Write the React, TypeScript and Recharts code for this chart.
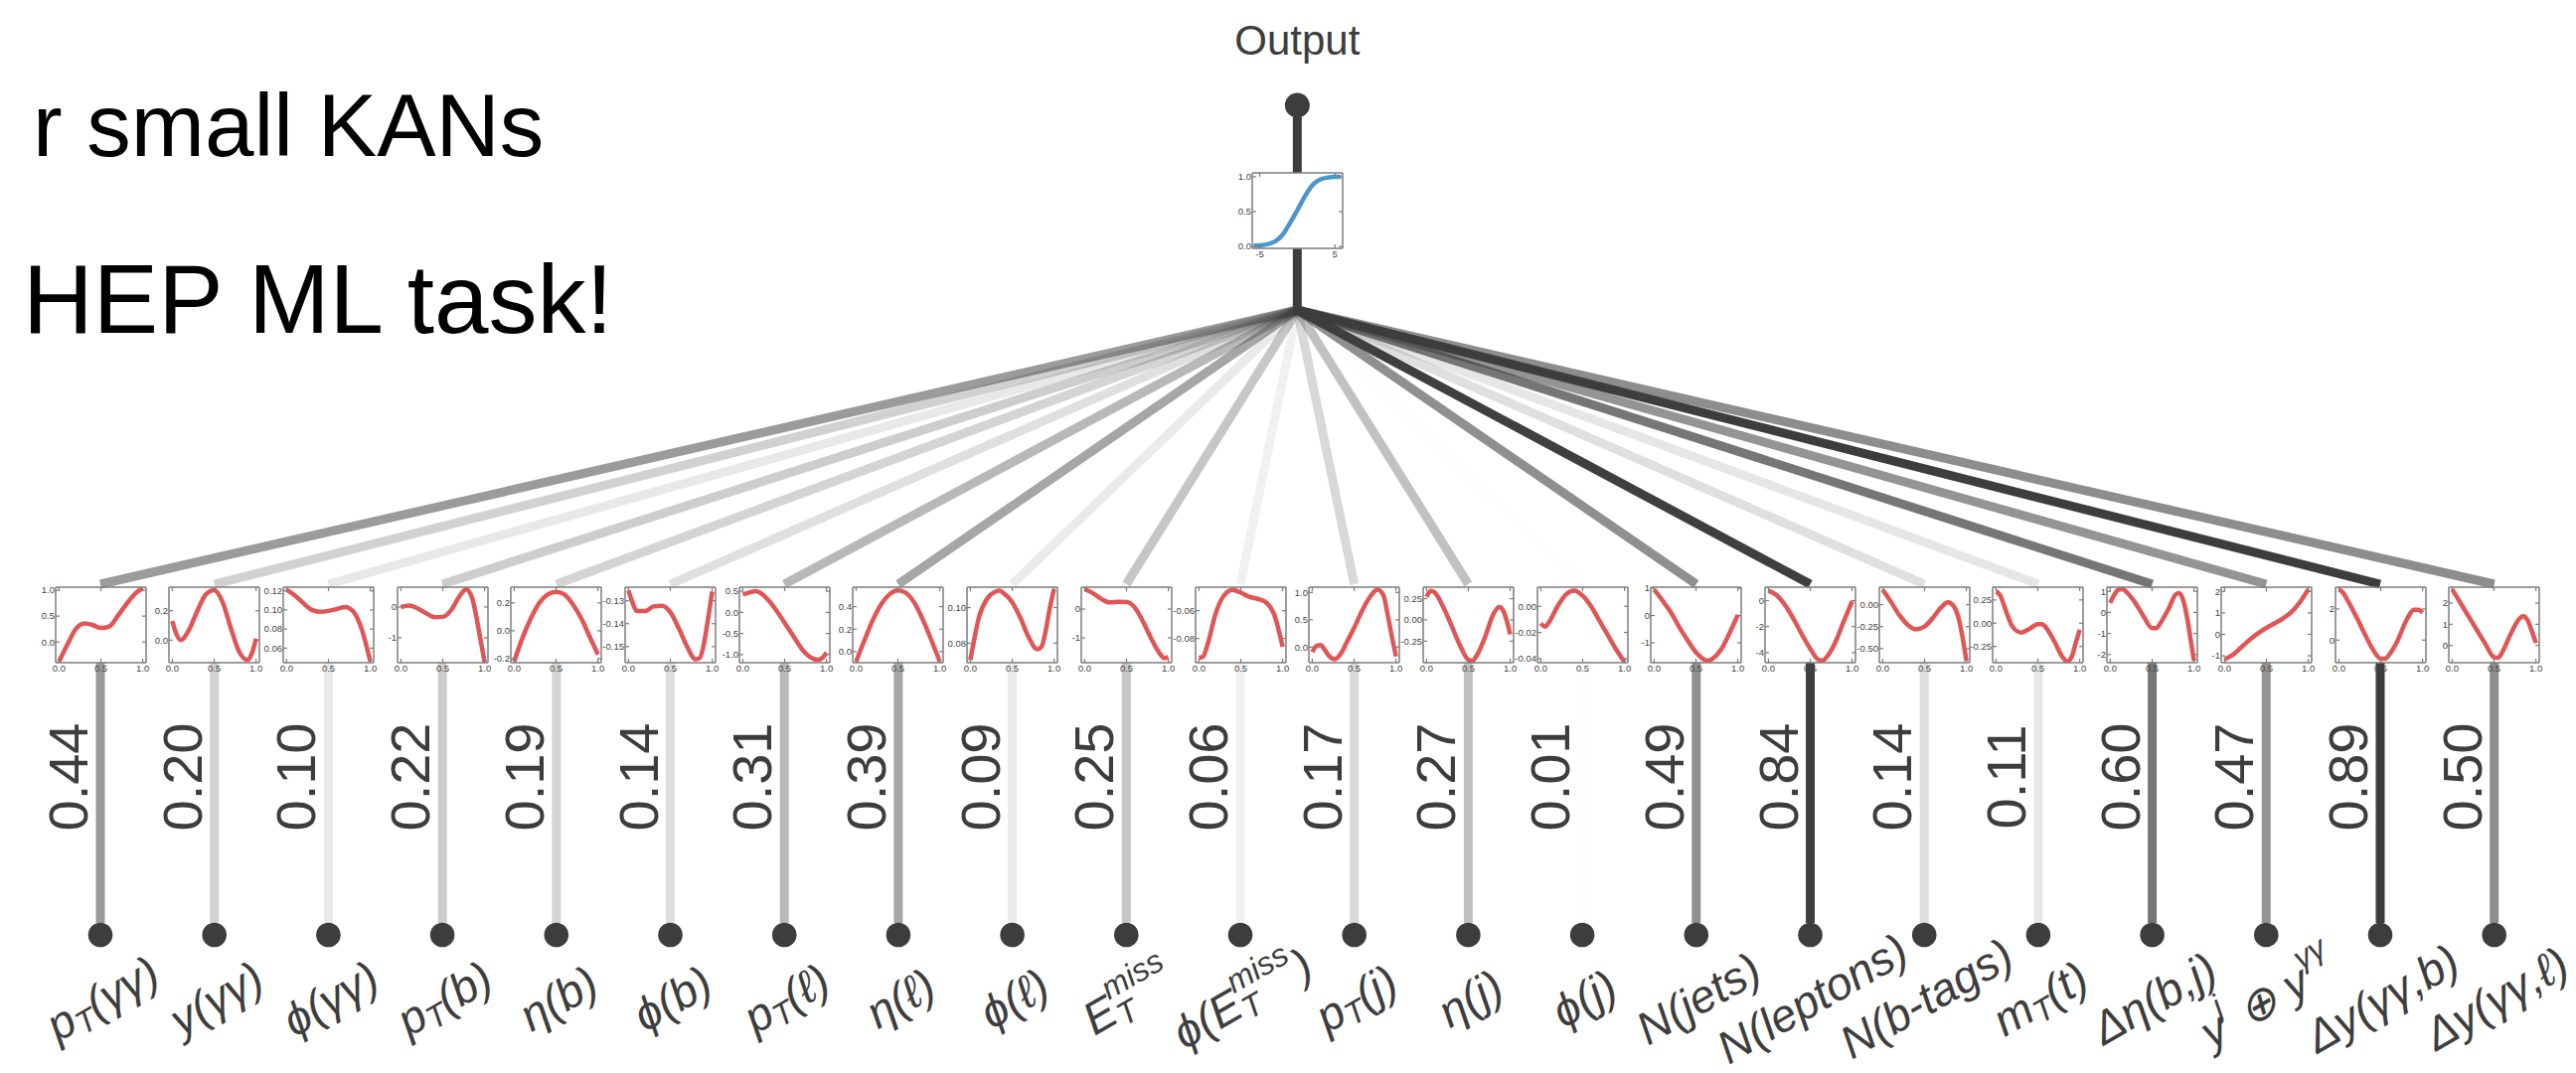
import React from "react";
import { ComposedChart, LineChart, Line, XAxis, YAxis, Scatter, ReferenceLine } from "recharts";

// ---- data ----
const scores = [0.44, 0.2, 0.1, 0.22, 0.19, 0.14, 0.31, 0.39, 0.09, 0.25, 0.06, 0.17, 0.27, 0.01, 0.49, 0.84, 0.14, 0.11, 0.6, 0.47, 0.89, 0.5];

type Piece = { t: string; m?: "b" | "p"; dx?: number };
const featureLabels: Piece[][] = [
  [{ t: "p" }, { t: "T", m: "b" }, { t: "(γγ)" }],
  [{ t: "y(γγ)" }],
  [{ t: "ϕ(γγ)" }],
  [{ t: "p" }, { t: "T", m: "b" }, { t: "(b)" }],
  [{ t: "η(b)" }],
  [{ t: "ϕ(b)" }],
  [{ t: "p" }, { t: "T", m: "b" }, { t: "(ℓ)" }],
  [{ t: "η(ℓ)" }],
  [{ t: "ϕ(ℓ)" }],
  [{ t: "E" }, { t: "miss", m: "p" }, { t: "T", m: "b", dx: -1.43 }],
  [{ t: "ϕ(E" }, { t: "miss", m: "p" }, { t: "T", m: "b", dx: -1.43 }, { t: ")", dx: 1.0 }],
  [{ t: "p" }, { t: "T", m: "b" }, { t: "(j)" }],
  [{ t: "η(j)" }],
  [{ t: "ϕ(j)" }],
  [{ t: "N(jets)" }],
  [{ t: "N(leptons)" }],
  [{ t: "N(b-tags)" }],
  [{ t: "m" }, { t: "T", m: "b" }, { t: "(t)" }],
  [{ t: "Δη(b,j)" }],
  [{ t: "y" }, { t: "j", m: "p" }, { t: " ⊕ y" }, { t: "γγ", m: "p" }],
  [{ t: "Δy(γγ,b)" }],
  [{ t: "Δy(γγ,ℓ)" }],
];

// activation curves, [x, φ(x)]
const fPtGG = [[0, -0.38], [0.1, -0.05], [0.2, 0.25], [0.3, 0.36], [0.4, 0.33], [0.5, 0.27], [0.6, 0.3], [0.7, 0.5], [0.8, 0.72], [0.9, 0.92], [0.97, 1.01], [1, 1.02]];
const fYGG = [[0, 0.13], [0.05, 0.04], [0.1, 0.0], [0.2, 0.07], [0.3, 0.2], [0.4, 0.31], [0.5, 0.34], [0.6, 0.26], [0.7, 0.08], [0.8, -0.08], [0.9, -0.135], [0.95, -0.09], [1, 0.01]];
const fPhiGG = [[0, 0.121], [0.1, 0.115], [0.2, 0.107], [0.3, 0.1], [0.4, 0.098], [0.5, 0.099], [0.6, 0.101], [0.7, 0.103], [0.8, 0.098], [0.9, 0.079], [1, 0.046]];
const fPtB = [[0, 0.0], [0.1, 0.05], [0.2, -0.05], [0.3, -0.2], [0.4, -0.33], [0.5, -0.32], [0.6, -0.1], [0.7, 0.35], [0.78, 0.57], [0.85, 0.3], [0.9, -0.3], [0.95, -1.05], [1, -1.8]];
const fEtaB = [[0, -0.22], [0.1, -0.05], [0.2, 0.09], [0.3, 0.2], [0.4, 0.26], [0.5, 0.28], [0.6, 0.26], [0.7, 0.19], [0.8, 0.09], [0.9, -0.04], [1, -0.17]];
const fPhiB = [[0, -0.1255], [0.05, -0.131], [0.1, -0.1345], [0.2, -0.1345], [0.3, -0.1325], [0.4, -0.1322], [0.5, -0.135], [0.6, -0.142], [0.7, -0.15], [0.8, -0.1555], [0.85, -0.155], [0.9, -0.149], [0.95, -0.138], [1, -0.126]];
const fPtL = [[0, 0.42], [0.1, 0.48], [0.15, 0.5], [0.2, 0.47], [0.3, 0.3], [0.4, 0.05], [0.5, -0.25], [0.6, -0.55], [0.7, -0.85], [0.8, -1.05], [0.9, -1.12], [0.95, -1.08], [1, -0.95]];
const fEtaL = [[0, -0.09], [0.1, 0.1], [0.2, 0.28], [0.3, 0.42], [0.4, 0.51], [0.5, 0.545], [0.6, 0.52], [0.7, 0.43], [0.8, 0.28], [0.9, 0.1], [1, -0.09]];
const fPhiL = [[0, 0.0705], [0.05, 0.083], [0.1, 0.094], [0.2, 0.105], [0.3, 0.109], [0.35, 0.1095], [0.4, 0.108], [0.5, 0.103], [0.6, 0.094], [0.7, 0.083], [0.8, 0.0765], [0.85, 0.078], [0.9, 0.087], [0.95, 0.1], [1, 0.1105]];
const fMet = [[0, 0.69], [0.1, 0.55], [0.2, 0.35], [0.3, 0.23], [0.4, 0.25], [0.5, 0.24], [0.6, 0.05], [0.7, -0.45], [0.8, -1.05], [0.9, -1.55], [0.95, -1.7], [1, -1.67]];
const fPhiMet = [[0, -0.094], [0.05, -0.093], [0.1, -0.085], [0.2, -0.062], [0.3, -0.049], [0.4, -0.045], [0.5, -0.047], [0.6, -0.05], [0.7, -0.0515], [0.8, -0.054], [0.9, -0.063], [1, -0.086]];
const fPtJ = [[0, -0.09], [0.05, 0.02], [0.1, 0.04], [0.15, -0.05], [0.2, -0.16], [0.27, -0.22], [0.35, -0.1], [0.4, 0.05], [0.5, 0.35], [0.6, 0.68], [0.7, 0.94], [0.78, 1.05], [0.85, 0.95], [0.9, 0.6], [0.95, 0.2], [1, -0.17]];
const fEtaJ = [[0, 0.27], [0.05, 0.34], [0.1, 0.32], [0.2, 0.15], [0.3, -0.07], [0.4, -0.3], [0.5, -0.47], [0.55, -0.48], [0.6, -0.42], [0.7, -0.2], [0.8, 0.07], [0.87, 0.15], [0.92, 0.1], [1, -0.17]];
const fPhiJ = [[0, -0.013], [0.05, -0.0155], [0.1, -0.012], [0.2, 0.0], [0.3, 0.009], [0.4, 0.012], [0.5, 0.008], [0.6, 0.0], [0.7, -0.011], [0.8, -0.022], [0.9, -0.033], [1, -0.0425]];
const fNJets = [[0, 0.95], [0.1, 0.55], [0.2, 0.12], [0.3, -0.42], [0.4, -0.91], [0.5, -1.35], [0.6, -1.62], [0.65, -1.65], [0.7, -1.58], [0.8, -1.25], [0.9, -0.65], [1, 0.02]];
const fNLep = [[0, 0.75], [0.1, 0.4], [0.2, -0.35], [0.3, -1.4], [0.4, -2.6], [0.5, -3.7], [0.6, -4.55], [0.65, -4.6], [0.7, -4.3], [0.8, -3.2], [0.9, -1.6], [1, -0.05]];
const fNBtag = [[0, 0.17], [0.1, 0.03], [0.2, -0.12], [0.3, -0.23], [0.4, -0.28], [0.5, -0.25], [0.6, -0.15], [0.7, -0.03], [0.78, 0.025], [0.85, -0.02], [0.9, -0.13], [0.95, -0.35], [1, -0.64]];
const fMtT = [[0, 0.34], [0.05, 0.3], [0.1, 0.18], [0.2, -0.04], [0.3, -0.1], [0.4, -0.06], [0.5, -0.01], [0.55, -0.01], [0.6, -0.05], [0.7, -0.2], [0.8, -0.37], [0.85, -0.41], [0.9, -0.37], [0.95, -0.22], [1, -0.07]];
const fDEta = [[0, 0.45], [0.05, 0.85], [0.1, 1.08], [0.15, 1.1], [0.2, 0.95], [0.3, 0.45], [0.4, -0.2], [0.5, -0.75], [0.55, -0.75], [0.6, -0.5], [0.7, 0.2], [0.78, 0.85], [0.82, 0.92], [0.87, 0.6], [0.92, -0.3], [0.96, -1.3], [1, -2.3]];
const fYsum = [[0, -1.17], [0.1, -0.95], [0.2, -0.6], [0.3, -0.25], [0.4, 0.05], [0.5, 0.3], [0.6, 0.52], [0.7, 0.75], [0.8, 1.05], [0.9, 1.5], [1, 2.1]];
const fDyB = [[0, 3.25], [0.05, 3.05], [0.1, 2.6], [0.2, 1.6], [0.3, 0.5], [0.4, -0.55], [0.5, -1.2], [0.55, -1.2], [0.6, -0.95], [0.7, -0.05], [0.8, 1.2], [0.9, 1.95], [0.95, 1.95], [1, 1.75]];
const fDyL = [[0, 2.65], [0.1, 2.0], [0.2, 1.35], [0.3, 0.7], [0.4, 0.05], [0.5, -0.55], [0.55, -0.58], [0.6, -0.3], [0.7, 0.55], [0.8, 1.25], [0.85, 1.38], [0.9, 1.2], [0.95, 0.7], [1, 0.12]];

const curves = [fPtGG, fYGG, fPhiGG, fPtB, fEtaB, fPhiB, fPtL, fEtaL, fPhiL, fMet, fPhiMet, fPtJ, fEtaJ, fPhiJ, fNJets, fNLep, fNBtag, fMtT, fDEta, fYsum, fDyB, fDyL];

const yRanges = [
  [-0.4, 1.06], [-0.153, 0.36], [0.0448, 0.1238], [-1.81, 0.645], [-0.229, 0.313], [-0.157, -0.1241],
  [-1.19, 0.595], [-0.0985, 0.573], [0.069, 0.1115], [-1.86, 0.76], [-0.0974, -0.0431], [-0.285, 1.097],
  [-0.504, 0.385], [-0.0431, 0.0146], [-1.73, 1.04], [-4.77, 1.03], [-0.66, 0.198], [-0.424, 0.387],
  [-2.39, 1.2], [-1.32, 2.2], [-1.45, 3.4], [-0.81, 2.75],
];
const yTickLabels = [
  ["0.0", "0.5", "1.0"], ["0.0", "0.2"], ["0.06", "0.08", "0.10", "0.12"], ["-1", "0"], ["-0.2", "0.0", "0.2"],
  ["-0.15", "-0.14", "-0.13"], ["-1.0", "-0.5", "0.0", "0.5"], ["0.0", "0.2", "0.4"], ["0.08", "0.10"],
  ["-1", "0"], ["-0.08", "-0.06"], ["0.0", "0.5", "1.0"], ["-0.25", "0.00", "0.25"], ["-0.04", "-0.02", "0.00"],
  ["-1", "0", "1"], ["-4", "-2", "0"], ["-0.50", "-0.25", "0.00"], ["-0.25", "0.00", "0.25"],
  ["-2", "-1", "0", "1"], ["-1", "0", "1", "2"], ["0", "2"], ["0", "1", "2"],
];
const xTickLabels = ["0.0", "0.5", "1.0"];

// output activation (sigmoid-like), [x, y]
const fOut = [[-5.8, 0.012], [-5, 0.015], [-4, 0.03], [-3, 0.07], [-2, 0.16], [-1, 0.33], [0, 0.52], [1, 0.72], [2, 0.88], [3, 0.96], [4, 0.99], [5, 1.0], [5.8, 1.0]];
const outYTicks = ["0.0", "0.5", "1.0"];
const outXTicks = ["-5", "5"];

// ---- layout ----
const W = 2592;
const H = 1080;
const STEP = 114.7;
const X_FIRST = 101;
const HUB_X = 10.5;
const OUT_NODE_Y = 106;
const OUT_BOX_TOP = 174;
const HUB_Y = 312;
const BOX_TOP = 591;
const PW = 91;
const PH = 76;
const NODE_Y = 941;
const VALUE_Y = 782;
const LABEL_Y = 1005;
const ML = 36, MR = 4, MT = 4, MB = 16;
const AX = 1; // thickness reserved by each axis
const DARK = "#3d3d3d";
const RED = "#e05656";
const BLUE = "#4b97c9";
const FRAME = "#7c7c7c";
const FONT = "'Liberation Sans', Arial, sans-serif";

const alpha = (v: number) => Math.min(1, v / 0.85);
const px = (i: number) => X_FIRST + STEP * i;

const fmt = (labels: string[]) => (v: number) => labels.find((l) => Number(l) === v) ?? String(v);

function MiniPlot({ pts, xDomain, xLabels, yDomain, yLabels, color, left, top }: any) {
  const data = pts.map(([x, y]: number[]) => ({ x, y }));
  const xt = xLabels.map(Number);
  const yt = yLabels.map(Number);
  const fx = fmt(xLabels);
  const fy = fmt(yLabels);
  const axisLine = { stroke: FRAME, strokeWidth: 1.5 };
  const common = { allowDataOverflow: true, tickSize: 0, tickMargin: 0, tickLine: false, axisLine, interval: 0 as const };
  return (
    <div style={{ position: "absolute", left: left - ML - AX, top: top - MT - AX }}>
      <LineChart width={PW + ML + MR + 2 * AX} height={PH + MT + MB + 2 * AX} data={data} margin={{ top: MT, right: MR, bottom: MB, left: ML }}>
        <XAxis xAxisId="b" type="number" dataKey="x" domain={xDomain} ticks={xt} height={AX} {...common}
          tick={(p: any) => (
            <g>
              <line x1={p.x} x2={p.x} y1={p.y} y2={p.y - 4} stroke={FRAME} strokeWidth={1.2} />
              <text x={p.x} y={p.y + 2} dy="0.72em" textAnchor="middle" fontSize={9.5} fill="#444" fontFamily={FONT}>{fx(p.payload.value)}</text>
            </g>
          )} />
        <XAxis xAxisId="t" orientation="top" type="number" dataKey="x" domain={xDomain} ticks={xt} height={AX} {...common}
          tick={(p: any) => <line x1={p.x} x2={p.x} y1={p.y} y2={p.y + 4} stroke={FRAME} strokeWidth={1.2} />} />
        <YAxis yAxisId="l" type="number" dataKey="y" domain={yDomain} ticks={yt} width={AX} {...common}
          tick={(p: any) => (
            <g>
              <line x1={p.x} x2={p.x + 4} y1={p.y} y2={p.y} stroke={FRAME} strokeWidth={1.2} />
              <text x={p.x - 1} y={p.y} dy="0.35em" textAnchor="end" fontSize={9.5} fill="#444" fontFamily={FONT}>{fy(p.payload.value)}</text>
            </g>
          )} />
        <YAxis yAxisId="r" orientation="right" type="number" dataKey="y" domain={yDomain} ticks={yt} width={AX} {...common}
          tick={(p: any) => <line x1={p.x} x2={p.x - 4} y1={p.y} y2={p.y} stroke={FRAME} strokeWidth={1.2} />} />
        <Line xAxisId="b" yAxisId="l" type="monotone" dataKey="y" stroke={color} strokeWidth={4.5} dot={false} isAnimationActive={false} />
      </LineChart>
    </div>
  );
}

function MathLabel({ cx, cy, pieces, size }: any) {
  let cur = 0;
  return (
    <text transform={`translate(${cx},${cy}) rotate(-30)`} textAnchor="middle" dominantBaseline="central"
      fontSize={size} fontStyle="italic" fill={DARK} fontFamily={FONT}>
      {pieces.map((p: Piece, k: number) => {
        const target = p.m === "b" ? 0.25 * size : p.m === "p" ? -0.42 * size : 0;
        const dy = target - cur;
        cur = target;
        return (
          <tspan key={k} dy={dy} dx={p.dx ? p.dx * size : undefined} fontSize={p.m ? size * 0.7 : size}>{p.t}</tspan>
        );
      })}
    </text>
  );
}

export default function App() {
  const X0 = -X_FIRST / STEP;
  const X1 = (W - X_FIRST) / STEP;
  const order = scores.map((s, i) => i).sort((a, b) => scores[a] - scores[b]);
  const nodes = scores.map((s, i) => ({ x: i, y: NODE_Y, i }));
  const valuePts = scores.map((s, i) => ({ x: i, y: VALUE_Y, i }));
  const labelPts = scores.map((s, i) => ({ x: i, y: LABEL_Y, i }));

  return (
    <div style={{ position: "absolute", left: 0, top: 0, width: W, height: H, background: "#fff", overflow: "hidden" }}>
      <div style={{ position: "absolute", left: 0, top: 0 }}>
        <ComposedChart width={W} height={H} margin={{ top: 0, right: 0, bottom: 0, left: 0 }}>
          <XAxis type="number" dataKey="x" domain={[X0, X1]} hide allowDataOverflow />
          <YAxis type="number" dataKey="y" domain={[0, H]} reversed hide allowDataOverflow width={0} />
          {order.map((i) => (
            <ReferenceLine key={"f" + i} segment={[{ x: i, y: BOX_TOP - 3 }, { x: HUB_X, y: HUB_Y }]}
              stroke={DARK} strokeOpacity={alpha(scores[i])} strokeWidth={9} ifOverflow="visible" />
          ))}
          {scores.map((s, i) => (
            <ReferenceLine key={"s" + i} segment={[{ x: i, y: BOX_TOP + PH }, { x: i, y: NODE_Y - 12 }]}
              stroke={DARK} strokeOpacity={alpha(s)} strokeWidth={9} ifOverflow="visible" />
          ))}
          <ReferenceLine segment={[{ x: HUB_X, y: OUT_NODE_Y + 12 }, { x: HUB_X, y: OUT_BOX_TOP }]} stroke={DARK} strokeWidth={9} ifOverflow="visible" />
          <ReferenceLine segment={[{ x: HUB_X, y: OUT_BOX_TOP + PH }, { x: HUB_X, y: HUB_Y + 2 }]} stroke={DARK} strokeWidth={9} ifOverflow="visible" />
          <Scatter data={nodes} isAnimationActive={false}
            shape={(p: any) => <circle cx={p.cx} cy={p.cy} r={12.3} fill={DARK} />} />
          <Scatter data={[{ x: HUB_X, y: OUT_NODE_Y }]} isAnimationActive={false}
            shape={(p: any) => <circle cx={p.cx} cy={p.cy} r={12.5} fill={DARK} />} />
          <Scatter data={valuePts} isAnimationActive={false}
            shape={(p: any) => {
              const x = p.cx - 13;
              return (
                <text x={x} y={p.cy} transform={`rotate(-90 ${x} ${p.cy})`} textAnchor="middle" fontSize={56} fill={DARK} fontFamily={FONT}>
                  {scores[p.payload.i].toFixed(2)}
                </text>
              );
            }} />
          <Scatter data={labelPts} isAnimationActive={false}
            shape={(p: any) => <MathLabel cx={p.cx + 2} cy={p.cy} pieces={featureLabels[p.payload.i]} size={46} />} />
        </ComposedChart>
      </div>

      {curves.map((pts, i) => (
        <MiniPlot key={i} pts={pts} xDomain={[-0.04, 1.04]} xLabels={xTickLabels} yDomain={yRanges[i]} yLabels={yTickLabels[i]}
          color={RED} left={px(i) - PW / 2} top={BOX_TOP} />
      ))}
      <MiniPlot pts={fOut} xDomain={[-6, 6.03]} xLabels={outXTicks} yDomain={[-0.029, 1.057]} yLabels={outYTicks}
        color={BLUE} left={px(HUB_X) - PW / 2} top={OUT_BOX_TOP} />

      <svg width={W} height={H} style={{ position: "absolute", left: 0, top: 0, pointerEvents: "none" }}>
        <text x={33} y={157} fontSize={89} fill="#000" fontFamily={FONT}>r small KANs</text>
        <text x={23} y={335} fontSize={98} fill="#000" fontFamily={FONT}>HEP ML task!</text>
        <text x={px(HUB_X)} y={55} fontSize={42} fill={DARK} textAnchor="middle" fontFamily={FONT}>Output</text>
      </svg>
    </div>
  );
}
